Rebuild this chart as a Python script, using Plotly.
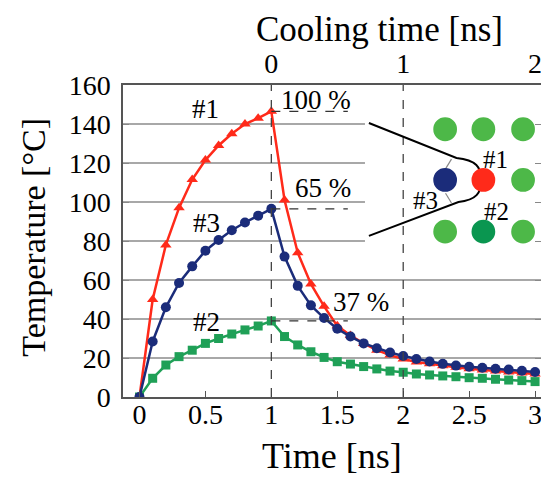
import plotly.graph_objects as go

# ---------------- data ----------------
time_ns = [0.0, 0.1, 0.2, 0.3, 0.4, 0.5, 0.6, 0.7, 0.8, 0.9, 1.0,
           1.1, 1.2, 1.3, 1.4, 1.5, 1.6, 1.7, 1.8, 1.9, 2.0,
           2.1, 2.2, 2.3, 2.4, 2.5, 2.6, 2.7, 2.8, 2.9, 3.0]

temp_1 = [0, 50, 78, 97, 111.5, 121.5, 129, 135, 140, 143, 146.5,
          101, 74, 58, 46.5, 36.5, 31.5, 27.5, 24, 21.5, 19.5,
          18, 17, 16, 15.2, 14.5, 13.8, 13.3, 12.8, 12.3, 11.8]

temp_3 = [0, 28.5, 46, 58.5, 67, 75, 80.5, 85.5, 89.5, 93, 96.5,
          72, 57, 47, 40.5, 35, 31, 27.5, 25, 22.8, 21,
          19.5, 18.2, 17, 16.1, 15.5, 15, 14.5, 14.1, 13.5, 12.8]

temp_2 = [0, 9.6, 16.4, 20.7, 24, 27.5, 30, 32.3, 34.4, 36.4, 39,
          31, 26.7, 23.2, 20.3, 18.1, 16.9, 15.6, 14.4, 13.3, 12.7,
          11.8, 11.3, 10.8, 10.4, 9.9, 9.6, 9.1, 8.7, 8.4, 7.9]

x_ticks = [0, 0.5, 1, 1.5, 2, 2.5, 3]
x_tick_text = ["0", "0.5", "1", "1.5", "2", "2.5", "3"]
y_ticks = [0, 20, 40, 60, 80, 100, 120, 140, 160]
cool_ticks = [0, 1, 2]
cool_tick_text = ["0", "1", "2"]
percent_labels = ["100 %", "65 %", "37 %"]

# ---------------- styling ----------------
RED = "#FF2A1A"
NAVY = "#1B2C7A"
GREEN = "#1FA057"
LGREEN = "#4DB848"
DGREEN = "#0A9650"
FONT = "Liberation Serif"

fig = go.Figure()
fig.add_trace(go.Scatter(x=time_ns, y=temp_2, mode="lines+markers",
                         line=dict(color=GREEN, width=2.5),
                         marker=dict(symbol="square", size=9, color=GREEN),
                         showlegend=False))
fig.add_trace(go.Scatter(x=time_ns, y=temp_1, mode="lines+markers",
                         line=dict(color=RED, width=2.5),
                         marker=dict(symbol="triangle-up", size=10, color=RED),
                         showlegend=False))
fig.add_trace(go.Scatter(x=time_ns, y=temp_3, mode="lines+markers",
                         line=dict(color=NAVY, width=2.5),
                         marker=dict(symbol="circle", size=10, color=NAVY),
                         showlegend=False))
# anchor trace for the top (cooling time) axis
fig.add_trace(go.Scatter(x=[0], y=[0], xaxis="x2", mode="markers",
                         marker=dict(opacity=0), hoverinfo="skip",
                         showlegend=False))

XR = [-0.125, 3.045]
shapes = []
# white inset panel
shapes.append(dict(type="rect", xref="x", yref="y", x0=1.71, x1=XR[1],
                   y0=68, y1=160, fillcolor="white", line=dict(width=0),
                   layer="between"))
# vertical dashed lines at cooling time 0 and 1
for ct in cool_ticks[:2]:
    shapes.append(dict(type="line", xref="x", yref="y", x0=ct + 1, x1=ct + 1,
                       y0=0, y1=160, line=dict(color="#444", width=1.3, dash="dash")))
# horizontal dashed peak markers
for peak in [max(temp_1), max(temp_3), max(temp_2)]:
    shapes.append(dict(type="line", xref="x", yref="y", x0=1.0, x1=1.58,
                       y0=peak, y1=peak, line=dict(color="#333", width=1.3, dash="dash")))

# inset diagram: black outline
shapes.append(dict(type="path", xref="x", yref="y",
                   path="M 1.740 140.5 L 2.404 122.6 C 2.555 121.5 2.592 117.9 2.592 111.3 "
                        "C 2.592 104.6 2.555 101.0 2.419 100.0 L 1.740 82.6",
                   line=dict(color="black", width=2)))
# small gray angle marks
shapes.append(dict(type="line", xref="x", yref="y", x0=2.366, x1=2.321, y0=122.0,
                   y1=117.0, line=dict(color="#888", width=1.2)))
shapes.append(dict(type="line", xref="x", yref="y", x0=2.321, x1=2.366, y0=104.5,
                   y1=99.5, line=dict(color="#888", width=1.2)))
# inset circles
rx, ry = 0.09, 6.1
circ = [
    (2.318, 137.3, LGREEN), (2.608, 137.3, LGREEN), (2.909, 137.3, LGREEN),
    (2.318, 111.3, NAVY), (2.608, 111.3, RED), (2.909, 111.3, LGREEN),
    (2.318, 84.8, LGREEN), (2.608, 84.8, DGREEN), (2.909, 84.8, LGREEN),
]
for cx, cy, col in circ:
    shapes.append(dict(type="circle", xref="x", yref="y", x0=cx - rx, x1=cx + rx,
                       y0=cy - ry, y1=cy + ry, fillcolor=col, line=dict(width=0)))

annots = []
def txt(x, y, s, size=27, xref="x", yref="y", **kw):
    annots.append(dict(x=x, y=y, xref=xref, yref=yref, text=s, showarrow=False,
                       xanchor="center", yanchor="middle",
                       font=dict(family=FONT, size=size, color="black"), **kw))

txt(0.5, 147.5, "#1")
txt(0.51, 89, "#3")
txt(0.51, 38.5, "#2")
txt(1.335, 152.5, percent_labels[0])
txt(1.395, 107, percent_labels[1])
txt(1.68, 48.7, percent_labels[2])
txt(2.70, 122, "#1", size=25)
txt(2.17, 101, "#3", size=25)
txt(2.705, 95, "#2", size=25)
# axis titles
txt(0.5, -0.19, "Time [ns]", size=36, xref="paper", yref="paper")
txt(0.614, 1.178, "Cooling time [ns]", size=35, xref="paper", yref="paper")
txt(-0.215, 0.511, "Temperature [°C]", size=34, xref="paper", yref="paper",
    textangle=-90)

fig.update_layout(
    width=541, height=471,
    margin=dict(l=115, r=6, t=77, b=82),
    paper_bgcolor="white", plot_bgcolor="white",
    font=dict(family=FONT, size=28, color="black"),
    shapes=shapes, annotations=annots,
    xaxis=dict(range=XR, tickvals=x_ticks, ticktext=x_tick_text,
               showgrid=False, zeroline=False, showline=True,
               linecolor="#555", linewidth=1.5, mirror=True,
               ticks="inside", ticklen=6, tickcolor="#555",
               tickfont=dict(size=28), ticklabelstandoff=-8),
    xaxis2=dict(range=[XR[0] - 1, XR[1] - 1], overlaying="x", side="top",
                tickvals=cool_ticks, ticktext=cool_tick_text, showgrid=False,
                zeroline=False, showline=False, ticks="", tickfont=dict(size=28),
                ticklabelstandoff=5),
    yaxis=dict(range=[0, 160], tickvals=y_ticks, showgrid=True,
               gridcolor="#A8A8A8", gridwidth=1.5, zeroline=False,
               showline=True, linecolor="#555", linewidth=1.5, mirror="ticks",
               ticks="inside", ticklen=6, tickcolor="#888",
               tickfont=dict(size=28), ticklabelstandoff=5),
)

fig.write_html("out.html")
